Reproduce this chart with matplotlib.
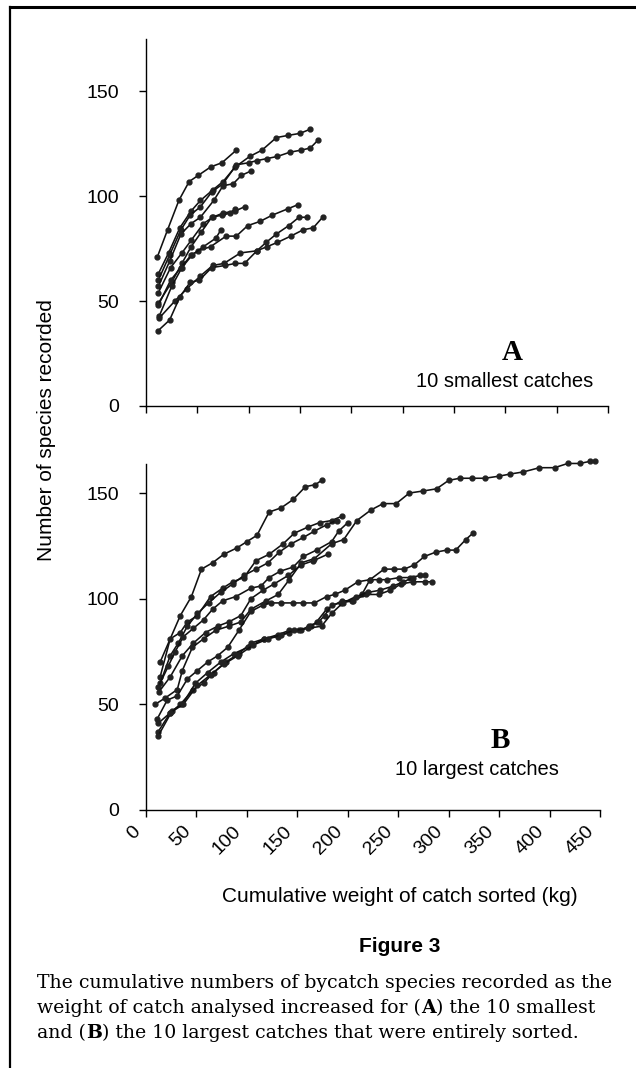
"""Cumulative bycatch species vs. weight of catch sorted (Figure 3)."""
import matplotlib

matplotlib.use("Agg")
import matplotlib.pyplot as plt
import matplotlib.transforms as mtransforms
from matplotlib.lines import Line2D

W, H = 636, 1068
SANS = "Liberation Sans"
SERIF = "DejaVu Serif"

# ---- panel A: 10 smallest catches (cumulative kg sorted, species recorded)
a01_kg = [11, 21, 32, 42, 51, 63, 74, 88]
a01_n = [71, 84, 98, 107, 110, 114, 116, 122]
a02_kg = [12, 22, 33, 44, 53, 65, 75, 87, 101, 113, 127, 138, 150, 160]
a02_n = [63, 73, 85, 93, 98, 103, 107, 114, 119, 122, 128, 129, 130, 132]
a03_kg = [12, 23, 34, 43, 53, 64, 75, 88, 100, 108, 118, 128, 140, 151, 160, 168]
a03_n = [60, 72, 84, 91, 95, 102, 106, 115, 116, 117, 118, 119, 121, 122, 123, 127]
a04_kg = [12, 23, 34, 44, 53, 66, 75, 85, 93, 102]
a04_n = [57, 69, 82, 87, 90, 98, 105, 106, 110, 112]
a05_kg = [12, 24, 35, 44, 56, 65, 75, 87, 96]
a05_n = [54, 66, 73, 79, 87, 90, 92, 93, 95]
a06_kg = [12, 25, 35, 44, 54, 64, 74, 82, 87]
a06_n = [49, 59, 68, 76, 83, 90, 91, 92, 94]
a07_kg = [12, 24, 34, 44, 51, 63, 78, 88, 99, 111, 123, 138, 148]
a07_n = [48, 60, 66, 72, 74, 76, 81, 81, 86, 88, 91, 94, 96]
a08_kg = [13, 25, 35, 45, 56, 68, 73]
a08_n = [43, 57, 66, 72, 76, 80, 84]
a09_kg = [13, 28, 40, 53, 65, 76, 92, 108, 117, 127, 139, 149, 157]
a09_n = [42, 50, 56, 62, 67, 68, 73, 74, 78, 82, 86, 90, 90]
a10_kg = [12, 23, 33, 43, 52, 64, 77, 87, 96, 108, 118, 128, 141, 153, 163, 172]
a10_n = [36, 41, 52, 59, 60, 66, 67, 68, 68, 74, 76, 78, 81, 84, 85, 90]

# ---- panel B: 10 largest catches
b01_kg = [14, 34, 45, 55, 66, 77, 90, 100, 110, 122, 134, 146, 158, 168, 174]
b01_n = [70, 92, 101, 114, 117, 121, 124, 127, 130, 141, 143, 147, 153, 154, 156]
b02_kg = [14, 24, 34, 41, 51, 64, 76, 86, 97, 109, 122, 136, 147, 161, 172, 184, 194]
b02_n = [63, 81, 84, 89, 92, 101, 105, 108, 110, 118, 121, 126, 131, 134, 136, 137, 139]
b03_kg = [14, 24, 32, 41, 51, 62, 74, 86, 97, 109, 121, 132, 144, 156, 167, 179, 189]
b03_n = [60, 73, 79, 87, 93, 98, 103, 107, 111, 114, 117, 122, 126, 129, 132, 135, 137]
b04_kg = [12, 22, 29, 37, 47, 57, 66, 76, 89, 104, 114, 122, 133, 146, 156, 169, 184, 191, 200]
b04_n = [58, 68, 75, 82, 86, 90, 95, 99, 101, 105, 106, 110, 113, 115, 120, 123, 127, 132, 136]
b05_kg = [13, 24, 36, 47, 59, 71, 82, 94, 104, 116, 127, 141, 154, 166, 180]
b05_n = [56, 63, 73, 79, 84, 87, 89, 92, 100, 104, 107, 111, 116, 118, 121]
b06_kg = [9, 19, 31, 36, 46, 57, 69, 82, 94, 104, 119, 131, 142, 154, 167, 184, 196,
          209, 223, 235, 248, 261, 275, 288, 300, 311, 323, 336, 350, 361, 374, 390,
          405, 418, 430, 440, 445]
b06_n = [50, 53, 57, 66, 77, 81, 85, 87, 89, 95, 99, 102, 109, 117, 119, 126, 128,
         137, 142, 145, 145, 150, 151, 152, 156, 157, 157, 157, 158, 159, 160, 162,
         162, 164, 164, 165, 165]
b07_kg = [11, 21, 31, 41, 51, 61, 71, 81, 92, 104, 116, 124, 134, 146, 156, 167, 179,
          187, 197, 210, 222, 231, 239, 251, 262, 272, 277]
b07_n = [43, 52, 54, 62, 66, 70, 73, 77, 85, 94, 97, 98, 98, 98, 98, 98, 101,
         102, 104, 108, 109, 109, 109, 110, 110, 111, 111]
b08_kg = [12, 24, 34, 47, 57, 67, 79, 92, 104, 117, 131, 142, 154, 164, 169, 179, 194,
          204, 214, 222, 236, 246, 256, 266, 276, 287, 298, 307, 317, 324]
b08_n = [37, 46, 50, 57, 60, 65, 70, 74, 79, 81, 83, 85, 85, 87, 89, 95, 99,
         99, 102, 109, 114, 114, 114, 116, 120, 122, 123, 123, 128, 131]
b09_kg = [12, 26, 36, 49, 61, 74, 87, 101, 117, 131, 142, 152, 162, 171, 177, 184, 193,
          205, 218, 231, 242, 253, 265, 277, 283]
b09_n = [35, 47, 50, 60, 65, 70, 74, 77, 81, 82, 84, 85, 87, 89, 92, 97, 98,
         99, 102, 102, 104, 107, 108, 108, 108]
b10_kg = [12, 24, 37, 51, 64, 77, 91, 106, 121, 134, 147, 161, 174, 184, 195, 208, 220,
          232, 245, 255, 265]
b10_n = [41, 46, 50, 59, 64, 69, 73, 78, 81, 83, 85, 86, 87, 93, 98, 101, 103,
         104, 106, 108, 110]

SMALL = [(a01_kg, a01_n), (a02_kg, a02_n), (a03_kg, a03_n), (a04_kg, a04_n),
         (a05_kg, a05_n), (a06_kg, a06_n), (a07_kg, a07_n), (a08_kg, a08_n),
         (a09_kg, a09_n), (a10_kg, a10_n)]
LARGE = [(b01_kg, b01_n), (b02_kg, b02_n), (b03_kg, b03_n), (b04_kg, b04_n),
         (b05_kg, b05_n), (b06_kg, b06_n), (b07_kg, b07_n), (b08_kg, b08_n),
         (b09_kg, b09_n), (b10_kg, b10_n)]

X_TICKS = list(range(0, 451, 50))
Y_TICKS = [0, 50, 100, 150]


def px_axes(fig, left, top, right, bottom):
    """Axes placed from pixel edges (origin top-left)."""
    return fig.add_axes([left / W, 1 - bottom / H, (right - left) / W, (bottom - top) / H])


def style_axis(ax, ymax):
    for side in ("top", "right"):
        ax.spines[side].set_visible(False)
    for side in ("left", "bottom"):
        ax.spines[side].set_linewidth(1.0)
    ax.set_xlim(0, 450)
    ax.set_ylim(0, ymax)
    ax.set_xticks(X_TICKS)
    ax.set_yticks(Y_TICKS)
    ax.tick_params(direction="out", length=5, width=1.0, labelsize=14, pad=14.5)
    ax.tick_params(axis="x", pad=8.5)
    for lab in ax.get_yticklabels():
        lab.set_family(SANS)


def draw_curves(ax, curves):
    for kg, n in curves:
        ax.plot(kg, n, color="#111111", lw=1.15, marker="o", ms=3.5,
                mfc="#222222", mec="#222222", clip_on=False)


fig = plt.figure(figsize=(W / 100, H / 100), dpi=100)

axA = px_axes(fig, 146, 39, 608, 406)
draw_curves(axA, SMALL)
style_axis(axA, 175)
axA.set_xticklabels([])
axA.text(0.792, 0.145, "A", transform=axA.transAxes, family="Liberation Serif",
         fontweight="bold", fontsize=21, ha="center", va="center")
axA.text(0.777, 0.068, "10 smallest catches", transform=axA.transAxes, family=SANS,
         fontsize=14.5, ha="center", va="center")

# panel B: same 2.11 px per species as the reading of its ticks, top near 464 px
B_TOP = 464
axB = px_axes(fig, 146, B_TOP, 600, 810)
draw_curves(axB, LARGE)
style_axis(axB, (810 - B_TOP) / 2.113)
axB.set_xticklabels([str(t) for t in X_TICKS], rotation=45, ha="right", va="center",
                    rotation_mode="anchor", family=SANS, fontsize=14)
shift = mtransforms.ScaledTranslation(-6 / 72, 0, fig.dpi_scale_trans)
for lab in axB.get_xticklabels():
    lab.set_transform(lab.get_transform() + shift)
axB.text(0.78, 0.20, "B", transform=axB.transAxes, family="Liberation Serif",
         fontweight="bold", fontsize=21, ha="center", va="center")
axB.text(0.73, 0.116, "10 largest catches", transform=axB.transAxes, family=SANS,
         fontsize=14.5, ha="center", va="center")

fig.text(47 / W, 1 - 430 / H, "Number of species recorded", rotation=90, family=SANS,
         fontsize=15, ha="center", va="center")
fig.text(400 / W, 1 - 897 / H, "Cumulative weight of catch sorted (kg)", family=SANS,
         fontsize=15, ha="center", va="center")

# frame lines of the printed figure box
fig.add_artist(Line2D([10 / W, 10 / W], [0, 1 - 7 / H], transform=fig.transFigure,
                      color="black", lw=1.6))
fig.add_artist(Line2D([10 / W, 1], [1 - 7 / H, 1 - 7 / H], transform=fig.transFigure,
                      color="black", lw=2.2))

fig.text(400 / W, 1 - 947 / H, "Figure 3", family=SANS, fontweight="bold",
         fontsize=15, ha="center", va="center")

CAPTION = [
    [("The cumulative numbers of bycatch species recorded as the", False)],
    [("weight of catch analysed increased for (", False), ("A", True),
     (") the 10 smallest", False)],
    [("and (", False), ("B", True),
     (") the 10 largest catches that were entirely sorted.", False)],
]
renderer = fig.canvas.get_renderer()
for i, parts in enumerate(CAPTION):
    x = 37
    y = 988 + 25 * i
    for s, bold in parts:
        t = fig.text(x / W, 1 - y / H, s, family=SERIF, fontsize=13.6,
                     fontweight="bold" if bold else "normal", ha="left", va="baseline")
        x += t.get_window_extent(renderer).width

fig.savefig("out.png", dpi=100)
